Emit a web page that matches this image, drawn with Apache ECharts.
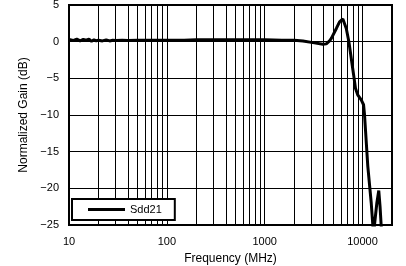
<!DOCTYPE html>
<html>
<head>
<meta charset="utf-8">
<script src="https://cdn.jsdelivr.net/npm/echarts@6/dist/echarts.min.js"></script>
<style>html,body{margin:0;padding:0;background:#fff;}#c{width:406px;height:266px;}</style>
</head>
<body>
<div id="c"></div>
<script>
var freqMHz = [10, 11, 12, 13, 14, 15, 16, 17, 18, 19, 20, 22, 24, 26, 28, 30, 35, 40, 50, 60, 80, 100, 150, 200, 300, 500, 700, 1000, 1500, 2000, 2460, 3110, 3940, 4260, 4600, 4800, 5400, 5820, 6290, 6820, 7250, 7670, 8100, 8480, 8960, 9700, 10240, 10480, 11320, 12270, 12730, 13000, 13240, 14000, 14650, 15100, 15490, 16000];
var gainDb = [0.3, 0.15, 0.35, 0.1, 0.3, 0.2, 0.35, 0.05, 0.25, 0.1, 0.2, 0.1, 0.25, 0.1, 0.2, 0.15, 0.2, 0.15, 0.2, 0.2, 0.2, 0.2, 0.2, 0.25, 0.25, 0.25, 0.25, 0.25, 0.2, 0.2, 0.1, -0.13, -0.35, -0.3, 0.1, 0.45, 1.8, 2.7, 3.1, 1.8, 0, -2.3, -4.5, -6.4, -7.3, -7.95, -8.6, -10, -17, -22, -25, -27, -25, -22, -20.3, -22.5, -25, -28];
var minorFreqs = [20, 30, 40, 50, 60, 70, 80, 90, 200, 300, 400, 500, 600, 700, 800, 900, 2000, 3000, 4000, 5000, 6000, 7000, 8000, 9000];
var xTickLabels = [10, 100, 1000, 10000];
var yTicks = [-25, -20, -15, -10, -5, 0, 5];
var seriesName = 'Sdd21';

var pts = freqMHz.map(function (f, i) { return [f, gainDb[i]]; });
var font = '"Liberation Sans", Arial, Helvetica, sans-serif';
var chart = echarts.init(document.getElementById('c'), null, {renderer: 'canvas'});
chart.setOption({
  animation: false,
  backgroundColor: '#fff',
  grid: {left: 69, right: 14, top: 5, bottom: 41, outerBoundsMode: 'none', containLabel: false,
    show: true, borderColor: '#000', borderWidth: 2, backgroundColor: 'transparent'},
  legend: {
    data: [seriesName], left: 72, top: 199, orient: 'horizontal', z: 20,
    icon: 'rect', itemWidth: 37, itemHeight: 3,
    padding: [5, 13, 5, 16], borderColor: '#000', borderWidth: 2, backgroundColor: '#fff',
    textStyle: {fontSize: 11, fontFamily: font, color: '#000'}
  },
  xAxis: {
    type: 'log', logBase: 10, min: 10, max: 20000,
    name: 'Frequency (MHz)', nameLocation: 'middle', nameGap: 28,
    nameTextStyle: {fontSize: 12, fontFamily: font, color: '#000'},
    axisLine: {show: false}, axisTick: {show: false},
    axisLabel: {fontSize: 11, fontFamily: font, color: '#000', margin: 11,
      formatter: function (v) { return xTickLabels.indexOf(Math.round(v)) >= 0 ? String(Math.round(v)) : ''; }},
    splitLine: {show: true, lineStyle: {color: '#000', width: 1}}
  },
  yAxis: {
    type: 'value', min: -25, max: 5, interval: 5,
    name: 'Normalized Gain (dB)', nameLocation: 'middle', nameGap: 35, nameRotate: 90,
    nameTextStyle: {fontSize: 12, fontFamily: font, color: '#000'},
    axisLine: {show: false}, axisTick: {show: false},
    axisLabel: {fontSize: 11, fontFamily: font, color: '#000', margin: 10,
      formatter: function (v) { return v < 0 ? '\u2212' + Math.abs(v) : String(v); }},
    splitLine: {show: true, lineStyle: {color: '#000', width: 1}}
  },
  series: [
    {
      name: 'grid', type: 'line', data: [], silent: true, z: 1,
      markLine: {silent: true, z: 1, symbol: ['none', 'none'], label: {show: false},
        lineStyle: {color: '#000', width: 1, type: 'solid'},
        data: minorFreqs.map(function (f) { return {xAxis: f}; })}
    },
    {
      name: seriesName, type: 'line', data: pts, showSymbol: false, symbol: 'none', z: 5,
      clip: true, color: '#000', lineStyle: {color: '#000', width: 3}
    }
  ]
});
</script>
</body>
</html>
